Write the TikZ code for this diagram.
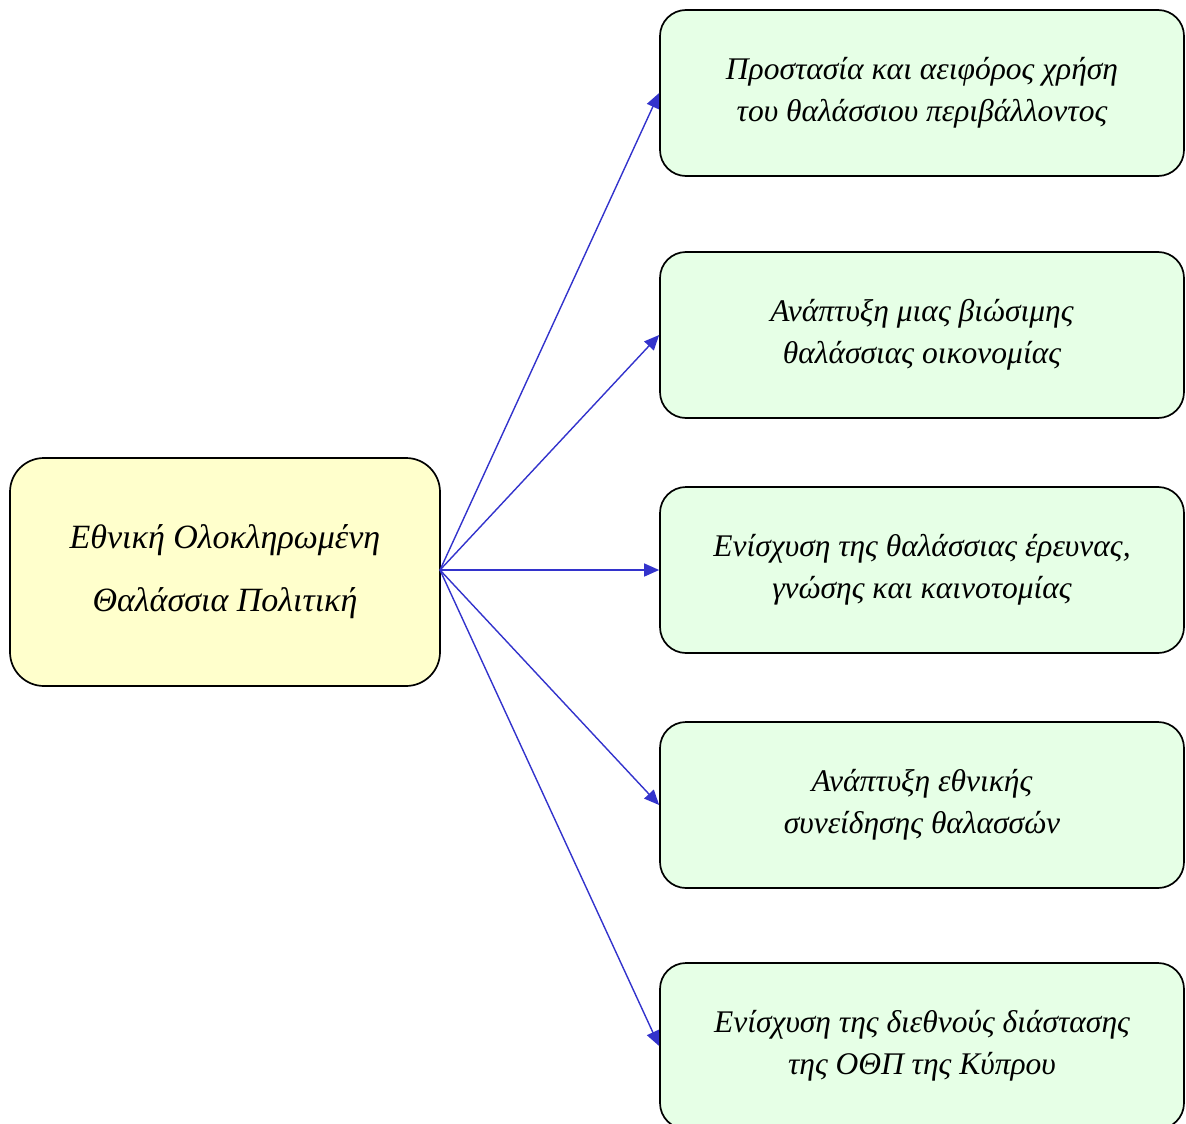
\documentclass[tikz,border=0pt]{standalone}
\usepackage{fontspec}
\setmainfont{Liberation Serif}
\usetikzlibrary{arrows.meta}
\definecolor{mainfill}{HTML}{FFFFCC}
\definecolor{subfill}{HTML}{E6FFE6}
\definecolor{arrowblue}{HTML}{3333CC}
\begin{document}
\begin{tikzpicture}[x=1pt,y=-1pt,
  mainbox/.style={draw=black, line width=1.7pt, fill=mainfill, rounded corners=34pt,
    minimum width=430pt, minimum height=228pt, align=center, inner sep=0pt,
    font=\fontsize{34}{63}\selectfont\itshape},
  subbox/.style={draw=black, line width=1.7pt, fill=subfill, rounded corners=26pt,
    minimum width=524pt, minimum height=166pt, align=center, inner sep=0pt,
    font=\fontsize{31.5}{42}\selectfont\itshape},
  link/.style={draw=arrowblue, line width=1.4pt, -{Triangle[length=15pt,width=13pt]}}]
\useasboundingbox (0,0) rectangle (1186,1124);
\node[mainbox] (m) at (225,572) {Εθνική Ολοκληρωμένη\\Θαλάσσια Πολιτική};
\coordinate (o) at (440,570);
\node[subbox] (a) at (922,93) {Προστασία και αειφόρος χρήση\\του θαλάσσιου περιβάλλοντος};
\node[subbox] (b) at (922,335) {Ανάπτυξη μιας βιώσιμης\\θαλάσσιας οικονομίας};
\node[subbox] (c) at (922,570) {Ενίσχυση της θαλάσσιας έρευνας,\\γνώσης και καινοτομίας};
\node[subbox] (d) at (922,805) {Ανάπτυξη εθνικής\\συνείδησης θαλασσών};
\node[subbox] (e) at (922,1046) {Ενίσχυση της διεθνούς διάστασης\\της ΟΘΠ της Κύπρου};
\foreach \t in {a,b,c,d,e} \draw[link] (o) -- (\t.west);
\end{tikzpicture}
\end{document}
